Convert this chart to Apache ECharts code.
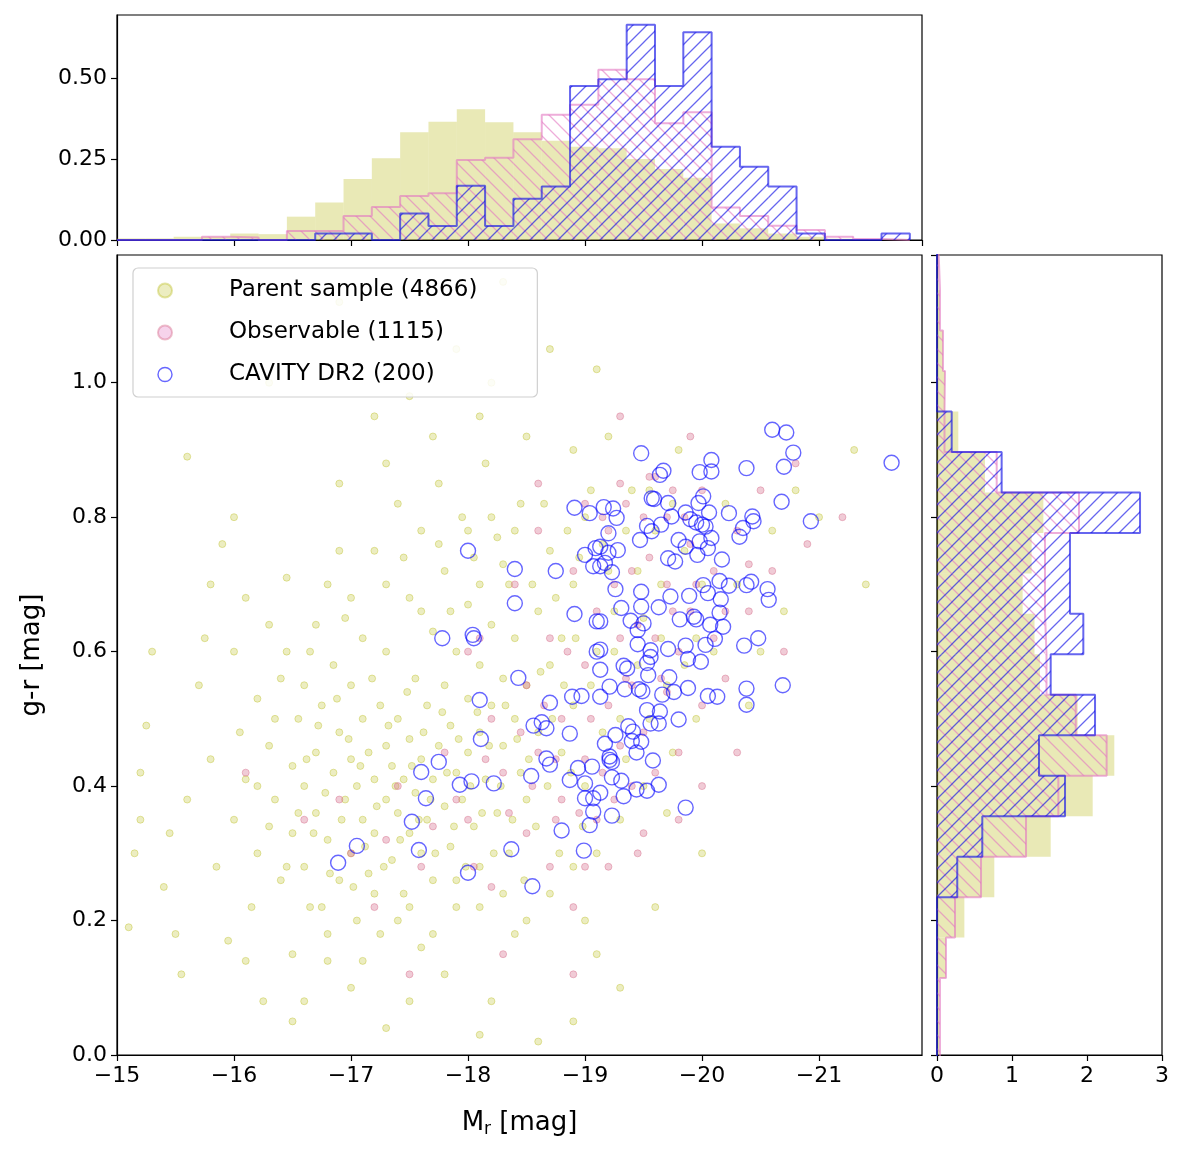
<!DOCTYPE html>
<html><head><meta charset="utf-8">
<script src="https://cdn.jsdelivr.net/npm/echarts@6/dist/echarts.min.js"></script>
<style>html,body{margin:0;padding:0;background:#fff}#c{width:1187px;height:1157px}</style>
</head><body><div id="c"></div>
<script>
// ---------- data ----------
const parentPts = [[-15.1,0.19],[-15.15,0.30],[-15.2,0.42],[-15.25,0.49],[-15.4,0.25],[-15.45,0.33],[-15.5,0.18],[-15.55,0.12],[-15.6,0.89],[-15.6,0.38],[-15.7,0.55],[-15.75,0.62],[-15.8,0.44],[-15.85,0.28],[-15.9,0.76],[-15.95,0.17],[-16.0,0.60],[-16.0,0.35],[-16.05,0.48],[-16.1,0.68],[-16.1,0.41],[-16.15,0.22],[-16.2,0.30],[-16.2,0.53],[-16.25,0.08],[-16.3,0.46],[-16.3,0.64],[-16.35,0.38],[-16.4,0.26],[-16.4,0.56],[-16.45,0.71],[-16.5,0.43],[-16.5,0.33],[-16.5,0.15],
[-16.55,0.50],[-16.6,0.40],[-16.6,0.28],[-16.65,0.60],[-16.7,0.36],[-16.7,0.45],[-16.75,0.22],[-16.75,0.52],[-16.8,0.70],[-16.8,0.32],[-16.85,0.42],[-16.85,0.58],[-16.9,0.26],[-16.9,0.48],[-16.95,0.38],[-16.95,0.65],[-17.0,0.44],[-17.0,0.30],[-17.0,0.55],[-17.05,0.20],[-17.05,0.40],[-17.1,0.35],[-17.1,0.50],[-17.1,0.62],[-17.15,0.27],[-17.15,0.45],[-17.2,0.41],[-17.2,0.33],[-17.2,0.75],[-17.25,0.52],[-17.25,0.18],[-17.3,0.38],[-17.3,0.46],[-17.3,0.60],[-17.35,0.29],[-17.35,0.43],[-17.4,0.36],[-17.4,0.50],[-17.4,0.82],[-17.45,0.24],[-17.45,0.41],[-17.5,0.47],[-17.5,0.33],[-17.5,0.68],[-17.55,0.39],[-17.55,0.56],[-17.6,0.30],[-17.6,0.44],[-17.6,0.78],[-17.65,0.35],[-17.65,0.52],[-17.7,0.41],[-17.7,0.26],[-17.7,0.63],[-17.75,0.46],[-17.75,0.85],[-17.8,0.37],[-17.8,0.55],[-17.8,0.72],[-17.85,0.31],[-17.85,0.49],[-17.9,0.42],[-17.9,0.60],[-17.9,0.22],[-17.95,0.38],[-17.95,0.80],[-18.0,0.45],[-18.0,0.53],[-18.0,0.67],[-18.05,0.34],[-18.05,0.74],[-18.1,0.48],[-18.1,0.58],[-18.1,0.28],[-18.15,0.41],[-18.15,0.88],[-18.2,0.52],[-18.2,0.64],[-18.25,0.36],[-18.25,0.77],[-18.3,0.46],[-18.3,0.56],[-18.35,0.70],[-18.35,0.30],[-18.4,0.50],[-18.4,0.62],[-18.45,0.42],[-18.45,0.82],[-18.5,0.55],[-18.5,0.38],
[-18.6,0.48],[-18.6,0.66],[-18.7,0.58],[-18.7,0.75],[-18.8,0.45],[-18.8,0.62],[-18.9,0.70],[-18.9,0.52],[-19.0,0.80],[-19.0,0.40],[-19.1,0.60],[-19.2,0.72],[-19.3,0.50],[-19.4,0.84],[-19.5,0.65],[-19.6,0.78],[-19.7,0.55],[-19.8,0.90],[-20.0,0.70],[-20.2,0.82],[-20.5,0.60],[-20.8,0.84],[-21.0,0.80],[-21.3,0.90],[-21.4,0.70],
[-16.9,1.12],[-17.5,0.98],[-17.9,1.05],[-18.3,1.15],[-18.2,1.00],[-18.7,1.05],[-19.1,1.02],[-17.2,0.95],[-16.3,1.0],
[-16.5,0.05],[-17.0,0.10],[-17.3,0.04],[-17.8,0.12],[-18.2,0.08],[-18.6,0.02],[-18.9,0.05],[-19.3,0.10],[-16.8,0.14],[-17.6,0.16],[-18.4,0.18],[-19.0,0.20],
[-16.62,0.44],[-16.68,0.33],[-16.72,0.49],[-16.78,0.39],[-16.82,0.27],[-16.88,0.53],[-16.92,0.35],[-16.98,0.47],[-17.02,0.25],[-17.08,0.43],[-17.12,0.31],[-17.18,0.56],[-17.22,0.37],[-17.28,0.28],[-17.32,0.49],[-17.38,0.40],[-17.42,0.32],[-17.48,0.54],[-17.52,0.43],[-17.58,0.35],[-17.62,0.48],[-17.68,0.38],[-17.72,0.30],[-17.78,0.51],[-17.82,0.42],[-17.88,0.34],[-17.92,0.47],[-17.98,0.28],[-18.02,0.40],[-18.08,0.51],[-18.12,0.36],[-18.18,0.46],[-18.22,0.30],[-18.28,0.40],[-18.32,0.52],[-18.38,0.35],[-18.42,0.47],[-18.48,0.26],[-18.52,0.44],[-18.58,0.34],[-18.62,0.57],[-18.68,0.40],[-18.72,0.50],[-18.78,0.30],[-18.82,0.55],[-18.88,0.42],[-18.92,0.62],[-18.98,0.34],
[-17.3,0.70],[-17.45,0.74],[-17.6,0.66],[-17.75,0.76],[-17.85,0.66],[-18.0,0.78],[-18.1,0.70],[-18.2,0.80],[-18.3,0.73],[-18.4,0.78],[-18.55,0.70],[-18.65,0.82],[-18.75,0.68],[-18.85,0.78],[-18.95,0.74],[-19.05,0.84],[-19.15,0.76],[-19.25,0.66],[-19.35,0.78],[-19.45,0.72],[-19.55,0.84],[-19.65,0.70],[-19.75,0.82],[-19.85,0.75],[-19.95,0.62],
[-19.05,0.55],[-19.15,0.48],[-19.25,0.60],[-19.35,0.44],[-19.45,0.58],[-19.55,0.50],[-19.65,0.62],[-19.75,0.45],[-19.85,0.58],[-19.95,0.50],[-20.1,0.60],[-20.3,0.70],[-20.4,0.52],[-20.6,0.78],[-20.7,0.66],[-19.1,0.30],[-19.3,0.35],[-19.5,0.40],[-19.7,0.36],
[-16.2,0.40],[-16.3,0.34],[-16.35,0.50],[-16.45,0.28],[-16.45,0.60],[-16.55,0.36],[-16.6,0.55],[-16.65,0.22],[-16.7,0.64],[-16.8,0.18],[-16.9,0.75],[-17.0,0.68],[-17.1,0.14],[-17.2,0.24],[-17.4,0.20],[-17.5,0.22],[-17.7,0.18],[-17.9,0.26],[-18.1,0.22],[-18.3,0.24],[-18.5,0.20],[-18.7,0.24],[-18.9,0.28],[-16.9,0.85],[-17.3,0.88],[-17.7,0.92],[-18.1,0.95],[-18.5,0.92],[-18.9,0.90],[-19.2,0.92],[-16.0,0.80],[-15.8,0.70],[-15.3,0.60],[-15.2,0.35],[-16.1,0.14],[-16.6,0.08],[-17.5,0.08],[-18.1,0.03],[-19.1,0.15],[-19.6,0.22],[-20.0,0.30]];
const observablePts = [[-17.0,0.30],[-17.2,0.22],[-17.4,0.40],[-17.6,0.28],[-17.8,0.45],[-18.0,0.35],[-18.0,0.60],[-18.2,0.50],[-18.2,0.25],[-18.3,0.42],[-18.4,0.70],[-18.5,0.33],[-18.5,0.55],[-18.6,0.45],[-18.6,0.78],[-18.7,0.28],[-18.7,0.62],[-18.8,0.50],[-18.8,0.38],[-18.9,0.72],[-18.9,0.22],[-19.0,0.58],[-19.0,0.44],[-19.0,0.82],[-19.1,0.35],[-19.1,0.66],[-19.2,0.52],[-19.2,0.78],[-19.2,0.28],[-19.3,0.46],[-19.3,0.62],[-19.3,0.85],[-19.4,0.40],[-19.4,0.72],[-19.4,0.55],[-19.5,0.80],[-19.5,0.48],[-19.5,0.33],[-19.6,0.62],[-19.6,0.86],[-19.6,0.42],[-19.7,0.70],[-19.7,0.54],[-19.7,0.80],[-19.8,0.60],[-19.8,0.45],[-19.9,0.76],[-19.9,0.66],[-20.0,0.52],[-20.0,0.84],[-20.1,0.62],[-20.1,0.72],[-20.2,0.56],[-20.3,0.78],[-20.4,0.66],[-20.5,0.84],[-20.6,0.72],[-20.7,0.60],[-20.8,0.88],[-20.9,0.76],[-21.2,0.80],[-20.3,0.45],[-19.8,0.35],[-18.3,0.15],[-18.9,0.12],[-17.5,0.12],[-16.1,0.42],[-16.6,0.35],[-19.0,0.28],[-18.1,0.62],[-19.3,0.95],[-20.0,0.40],[-20.2,0.66],[-20.4,0.73],[-19.9,0.92],[-18.6,0.85],
[-18.45,0.48],[-18.55,0.40],[-18.65,0.52],[-18.75,0.44],[-18.85,0.60],[-18.95,0.36],[-19.05,0.50],[-19.15,0.42],[-19.25,0.70],[-19.35,0.56],[-19.45,0.64],[-19.55,0.74],[-19.65,0.56],[-19.75,0.66],[-19.85,0.80],[-19.95,0.70],[-19.15,0.80],[-19.35,0.82],[-19.55,0.86],[-19.75,0.84],[-19.45,0.30],[-19.25,0.38],[-18.35,0.36],[-18.15,0.44],[-17.9,0.38],[-17.7,0.34],[-17.3,0.32],[-16.9,0.38],[-18.05,0.28],[-18.75,0.35]];
const cavityPts = [[-21.62,0.881],[-20.60,0.930],[-20.72,0.926],[-20.78,0.896],[-20.70,0.875],[-20.38,0.873],[-19.48,0.895],[-19.64,0.863],[-19.67,0.869],[-19.98,0.867],[-20.08,0.885],[-20.08,0.868],[-20.68,0.823],[-20.93,0.794],[-20.43,0.801],[-20.44,0.794],[-20.35,0.784],[-20.32,0.771],[-20.23,0.806],[-20.17,0.737],[-20.01,0.831],[-19.97,0.821],[-20.06,0.807],[-19.57,0.828],[-19.59,0.827],[-19.71,0.821],[-19.74,0.801],[-19.86,0.807],[-19.90,0.797],[-19.95,0.792],[-20.00,0.789],[-20.03,0.786],[-20.08,0.769],[-19.98,0.764],[-19.86,0.756],[-20.05,0.754],[-19.80,0.766],[-19.65,0.789],[-19.53,0.787],[-19.57,0.779],[-19.47,0.766],[-19.71,0.739],[-19.77,0.734],[-19.96,0.744],[-19.24,0.813],[-19.27,0.799],[-19.16,0.815],[-19.20,0.776],[-19.28,0.751],[-19.23,0.718],[-19.26,0.693],[-19.48,0.689],[-19.31,0.665],[-19.48,0.667],[-19.63,0.666],[-19.73,0.682],[-19.89,0.683],[-20.01,0.699],[-20.15,0.705],[-20.23,0.698],[-20.38,0.699],[-20.42,0.704],[-20.56,0.693],[-20.57,0.677],[-20.16,0.678],[-20.05,0.687],[-20.15,0.658],[-20.18,0.637],[-20.07,0.640],[-19.93,0.652],[-19.95,0.648],[-19.81,0.648],[-19.50,0.642],[-19.39,0.646],[-19.45,0.632],[-19.45,0.611],[-19.56,0.602],[-19.56,0.592],[-19.53,0.583],[-19.33,0.579],[-19.36,0.575],[-19.54,0.565],[-19.71,0.604],[-19.86,0.609],[-20.03,0.610],[-20.11,0.619],[-19.88,0.589],[-19.99,0.585],[-20.36,0.609],[-20.48,0.620],[-20.69,0.550],[-20.38,0.545],[-20.38,0.521],[-20.05,0.534],[-20.13,0.533],[-19.88,0.546],[-19.76,0.540],[-19.72,0.562],[-19.66,0.536],[-19.49,0.541],[-19.46,0.544],[-19.34,0.544],[-19.21,0.548],[-19.53,0.513],[-19.64,0.511],[-19.56,0.493],[-19.63,0.493],[-19.80,0.499],[-19.37,0.489],[-19.41,0.481],[-19.26,0.476],[-19.48,0.466],[-19.40,0.467],[-19.44,0.450],[-19.58,0.438],[-19.21,0.444],[-19.23,0.436],[-19.23,0.413],[-19.31,0.408],[-19.44,0.395],[-19.53,0.393],[-19.33,0.385],[-19.63,0.402],[-19.86,0.368],[-19.23,0.356],[-19.13,0.390],[-19.13,0.533],[-19.13,0.573],[-19.13,0.603],[-19.13,0.645],[-19.13,0.727],[-19.13,0.756],[-19.20,0.747],[-18.00,0.750],[-18.40,0.723],[-18.75,0.720],[-18.40,0.672],[-18.91,0.814],[-19.04,0.806],[-19.00,0.744],[-19.07,0.727],[-19.09,0.754],[-19.17,0.732],[-18.91,0.656],[-19.10,0.645],[-17.78,0.620],[-18.04,0.625],[-18.05,0.620],[-19.10,0.600],[-18.43,0.561],[-18.10,0.528],[-18.70,0.524],[-18.89,0.533],[-18.97,0.534],[-18.56,0.490],[-18.63,0.495],[-18.67,0.486],[-18.87,0.478],[-19.17,0.463],[-18.11,0.470],[-17.75,0.436],[-17.60,0.421],[-17.93,0.402],[-18.03,0.407],[-18.22,0.404],[-18.54,0.415],[-18.67,0.441],[-18.70,0.432],[-18.94,0.427],[-19.06,0.429],[-18.87,0.409],[-19.00,0.404],[-19.21,0.439],[-19.00,0.382],[-19.07,0.382],[-19.07,0.362],[-19.04,0.342],[-17.64,0.382],[-17.52,0.347],[-18.80,0.334],[-17.05,0.311],[-17.58,0.305],[-16.89,0.286],[-18.37,0.306],[-18.99,0.304],[-18.00,0.271],[-18.55,0.251]];

// Top histogram (M_r) : bins start at -15, width 0.242 mag, 28 bins
const magBinStart = -15, magBinWidth = 0.242;
const magHistParent = [0.005,0.005,0.01,0.01,0.02,0.018,0.072,0.116,0.188,0.252,0.332,0.365,0.403,0.363,0.332,0.306,0.288,0.283,0.25,0.219,0.192,0.051,0.036,0.02,0.01,0.004,0.002,0];
const magHistObs = [0,0,0,0.01,0.008,0,0.028,0.028,0.074,0.102,0.136,0.144,0.247,0.254,0.311,0.386,0.417,0.525,0.496,0.36,0.394,0.1,0.074,0.044,0.031,0.01,0.003,0];
const magHistCav = [0,0,0,0,0,0,0,0.02,0.02,0,0.082,0.043,0.167,0.043,0.127,0.165,0.475,0.496,0.664,0.475,0.641,0.288,0.226,0.165,0.02,0,0,0.02];
// Right histogram (g-r): bins start at -0.006, width 0.0602, 20 bins
const grBinStart = -0.006, grBinWidth = 0.0602;
const grHistParent = [0.03,0.03,0.12,0.365,0.764,1.516,2.076,2.364,1.876,1.373,1.3,1.142,1.262,1.418,0.64,0.284,0.107,0.08,0.04,0.02];
const grHistObs = [0.04,0.04,0.12,0.24,0.587,1.187,1.618,2.262,1.85,1.46,1.44,1.44,1.44,1.893,0.796,0.1,0.107,0.08,0.04,0.02];
const grHistCav = [0,0,0,0,0.27,0.604,1.707,1.36,2.107,1.516,1.951,1.773,1.773,2.707,0.862,0.196,0,0,0,0];

const labels = ['Parent sample (4866)','Observable (1115)','CAVITY DR2 (200)'];

// ---------- helpers ----------
const FONT = 'DejaVu Sans';
function hatch(color, dir){
  const s=14, c=document.createElement('canvas'); c.width=s; c.height=s;
  const g=c.getContext('2d'); g.strokeStyle=color; g.lineWidth=1.3;
  g.beginPath();
  if(dir>0){ g.moveTo(0,s); g.lineTo(s,0); g.moveTo(-2,2); g.lineTo(2,-2); g.moveTo(s-2,s+2); g.lineTo(s+2,s-2);}
  else { g.moveTo(0,0); g.lineTo(s,s); g.moveTo(s-2,-2); g.lineTo(s+2,2); g.moveTo(-2,s-2); g.lineTo(2,s+2);}
  g.stroke();
  return {image:c, repeat:'repeat'};
}
const magEdges = Array.from({length:magHistParent.length+1},(_,i)=>magBinStart - magBinWidth*i);
const grEdges = Array.from({length:grHistParent.length+1},(_,i)=>grBinStart + grBinWidth*i);

function topRects(vals, fill, z){
  return {type:'custom', xAxisIndex:1, yAxisIndex:1, z, silent:true, clip:true,
    data: vals.map((v,i)=>[magEdges[i], magEdges[i+1], v]),
    encode:{x:[0,1], y:2},
    renderItem:(p,api)=>{const a=api.coord([api.value(0),api.value(2)]), b=api.coord([api.value(1),0]);
      return {type:'rect', shape:{x:Math.min(a[0],b[0]), y:a[1], width:Math.abs(b[0]-a[0]), height:b[1]-a[1]}, style:{fill, stroke:null}};}};
}
function rightRects(vals, fill, z){
  return {type:'custom', xAxisIndex:2, yAxisIndex:2, z, silent:true, clip:true,
    data: vals.map((v,i)=>[v, grEdges[i], grEdges[i+1]]),
    encode:{x:0, y:[1,2]},
    renderItem:(p,api)=>{const a=api.coord([api.value(0),api.value(2)]), b=api.coord([0,api.value(1)]);
      return {type:'rect', shape:{x:b[0], y:a[1], width:a[0]-b[0], height:b[1]-a[1]}, style:{fill, stroke:null}};}};
}
function topStep(vals){ const pts=[[magEdges[0],0]]; vals.forEach((v,i)=>{pts.push([magEdges[i],v]);pts.push([magEdges[i+1],v]);}); pts.push([magEdges[vals.length],0]); return pts; }
function rightStep(vals){ const pts=[[0,grEdges[0]]]; vals.forEach((v,i)=>{pts.push([v,grEdges[i]]);pts.push([v,grEdges[i+1]]);}); pts.push([0,grEdges[vals.length]]); return pts; }
function stepLine(pts, xi, color, z){ return {type:'line', xAxisIndex:xi, yAxisIndex:xi, data:pts, symbol:'none', silent:true, z, clip:true, lineStyle:{color, width:2}}; }

const PINKLINE='rgba(227,119,194,0.6)', BLUELINE='rgba(20,20,230,0.65)';
const YFILL='rgba(188,189,34,0.33)';
const pinkHatch=hatch('rgba(227,119,194,0.6)',-1), blueHatch=hatch('rgba(20,20,230,0.65)',1);
const minus=v=>(v<0?'\u2212':'')+Math.abs(v);
const tickLab={fontFamily:FONT, fontSize:22, color:'#000'};
const axBase={axisLine:{show:true,lineStyle:{color:'#000',width:1.2}}, axisTick:{show:true,length:6,lineStyle:{color:'#000',width:1.2}}, splitLine:{show:false}};

const chart=echarts.init(document.getElementById('c'));
chart.setOption({
  animation:false,
  textStyle:{fontFamily:FONT},
  grid:[
    {left:117, top:255, width:805, height:800, show:true, borderColor:'#000', borderWidth:1.2},
    {left:117, top:15, width:805, height:225, show:true, borderColor:'#000', borderWidth:1.2},
    {left:937, top:255, width:225, height:800, show:true, borderColor:'#000', borderWidth:1.2}
  ],
  xAxis:[
    Object.assign({gridIndex:0, type:'value', min:-21.88, max:-15, inverse:true, splitNumber:7,
      axisLabel:Object.assign({formatter:minus, margin:10, showMinLabel:false}, tickLab),
      name:'M{s|r} [mag]', nameLocation:'middle', nameGap:54,
      nameTextStyle:{fontFamily:FONT, fontSize:26, color:'#000', rich:{s:{fontFamily:FONT, fontSize:17, color:'#000', verticalAlign:'bottom', padding:[12,0,0,0]}}}}, axBase),
    Object.assign({gridIndex:1, type:'value', min:-21.88, max:-15, inverse:true, splitNumber:7, axisLabel:{show:false}}, axBase),
    Object.assign({gridIndex:2, type:'value', min:0, max:3, interval:1, axisLabel:Object.assign({margin:10}, tickLab)}, axBase)
  ],
  yAxis:[
    Object.assign({gridIndex:0, type:'value', min:0, max:1.19, interval:0.2,
      axisLabel:Object.assign({formatter:v=>v.toFixed(1), margin:10, showMaxLabel:false}, tickLab),
      name:'g-r [mag]', nameLocation:'middle', nameGap:72, nameTextStyle:{fontFamily:FONT, fontSize:26, color:'#000'}}, axBase),
    Object.assign({gridIndex:1, type:'value', min:0, max:0.694, interval:0.25,
      axisLabel:Object.assign({formatter:v=>v.toFixed(2), margin:10, showMaxLabel:false}, tickLab)}, axBase),
    Object.assign({gridIndex:2, type:'value', min:0, max:1.19, interval:0.2, axisLabel:{show:false}}, axBase)
  ],
  legend:{orient:'vertical', left:133, top:268, width:416, padding:[11,60,11,24], itemGap:19, itemWidth:14, itemHeight:14,
    borderColor:'#d0d0d0', borderWidth:1.2, borderRadius:5, backgroundColor:'rgba(255,255,255,0.85)',
    textStyle:{fontFamily:FONT, fontSize:23, color:'#000', padding:[0,0,0,52]},
    data:[{name:labels[0], icon:'circle', itemStyle:{color:'rgba(188,189,34,0.35)'}},
          {name:labels[1], icon:'circle', itemStyle:{color:'rgba(227,119,194,0.4)'}},
          {name:labels[2], icon:'circle', itemStyle:{color:'rgba(255,255,255,0)', borderColor:'rgba(0,0,255,0.75)', borderWidth:1.4}}]},
  series:[
    {name:labels[0], type:'scatter', xAxisIndex:0, yAxisIndex:0, data:parentPts, symbolSize:7, z:2,
      itemStyle:{color:'rgba(188,189,34,0.35)', borderColor:'rgba(188,189,34,0.5)', borderWidth:1}},
    {name:labels[1], type:'scatter', xAxisIndex:0, yAxisIndex:0, data:observablePts, symbolSize:7, z:3,
      itemStyle:{color:'rgba(214,110,140,0.45)', borderColor:'rgba(214,110,140,0.55)', borderWidth:1}},
    {name:labels[2], type:'scatter', xAxisIndex:0, yAxisIndex:0, data:cavityPts, symbolSize:15, z:4,
      itemStyle:{color:'rgba(255,255,255,0)', borderColor:'rgba(0,0,255,0.75)', borderWidth:1.4}},
    topRects(magHistParent, YFILL, 1),
    topRects(magHistObs, pinkHatch, 2),
    stepLine(topStep(magHistObs), 1, PINKLINE, 3),
    topRects(magHistCav, blueHatch, 4),
    stepLine(topStep(magHistCav), 1, BLUELINE, 5),
    rightRects(grHistParent, YFILL, 1),
    rightRects(grHistObs, pinkHatch, 2),
    stepLine(rightStep(grHistObs), 2, PINKLINE, 3),
    rightRects(grHistCav, blueHatch, 4),
    stepLine(rightStep(grHistCav), 2, BLUELINE, 5)
  ]
});
</script></body></html>
